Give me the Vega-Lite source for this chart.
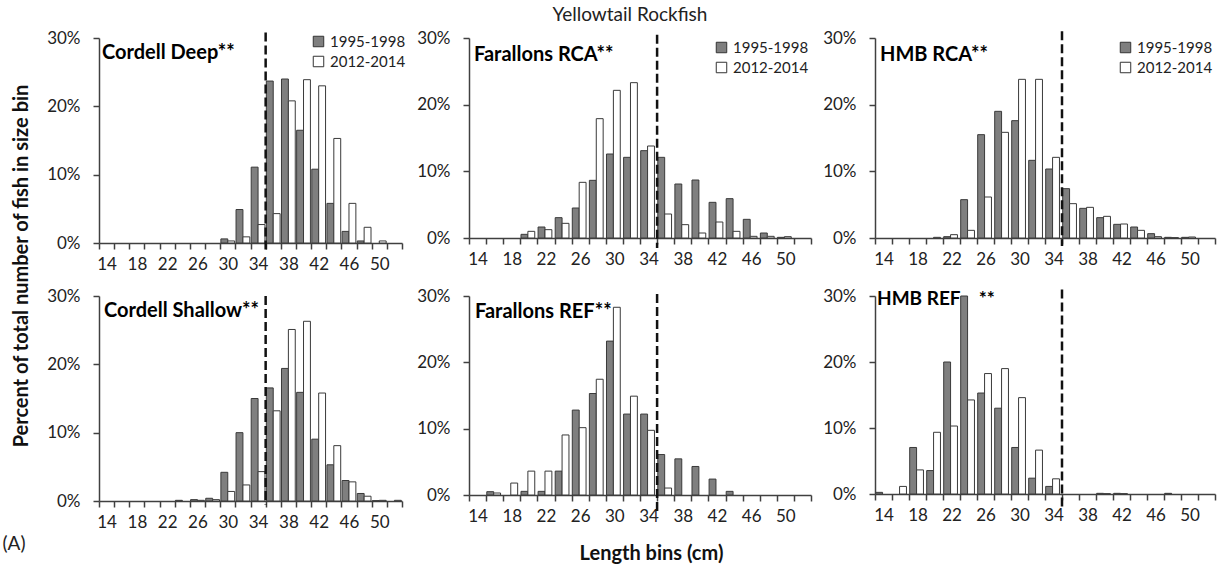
{
  "$schema": "https://vega.github.io/schema/vega-lite/v6.json",
  "padding": {"left": 2, "right": 2, "top": 6, "bottom": 2},
  "background": "#ffffff",
  "title": {"text": "Yellowtail Rockfish", "font": "Lato", "fontSize": 19, "fontWeight": "normal", "color": "#222222", "anchor": "middle", "dx": 21, "offset": 4},
  "datasets": {
    "panels": [
      {"site": "Cordell Deep", "label": "Cordell Deep**"},
      {"site": "Farallons RCA", "label": "Farallons RCA**"},
      {"site": "HMB RCA", "label": "HMB RCA**"},
      {"site": "Cordell Shallow", "label": "Cordell Shallow**"},
      {"site": "Farallons REF", "label": "Farallons REF**"},
      {"site": "HMB REF", "label": "HMB REF\u00a0\u00a0\u00a0\u00a0**"}
    ],
    "lengths": [
      {"site": "Cordell Deep", "bin": 30, "period": "1995-1998", "pct": 0.6},
      {"site": "Cordell Deep", "bin": 30, "period": "2012-2014", "pct": 0.3},
      {"site": "Cordell Deep", "bin": 32, "period": "1995-1998", "pct": 4.9},
      {"site": "Cordell Deep", "bin": 32, "period": "2012-2014", "pct": 0.9},
      {"site": "Cordell Deep", "bin": 34, "period": "1995-1998", "pct": 11.1},
      {"site": "Cordell Deep", "bin": 34, "period": "2012-2014", "pct": 2.7},
      {"site": "Cordell Deep", "bin": 36, "period": "1995-1998", "pct": 23.7},
      {"site": "Cordell Deep", "bin": 36, "period": "2012-2014", "pct": 4.3},
      {"site": "Cordell Deep", "bin": 38, "period": "1995-1998", "pct": 24.0},
      {"site": "Cordell Deep", "bin": 38, "period": "2012-2014", "pct": 20.8},
      {"site": "Cordell Deep", "bin": 40, "period": "1995-1998", "pct": 16.5},
      {"site": "Cordell Deep", "bin": 40, "period": "2012-2014", "pct": 23.9},
      {"site": "Cordell Deep", "bin": 42, "period": "1995-1998", "pct": 10.8},
      {"site": "Cordell Deep", "bin": 42, "period": "2012-2014", "pct": 23.0},
      {"site": "Cordell Deep", "bin": 44, "period": "1995-1998", "pct": 5.8},
      {"site": "Cordell Deep", "bin": 44, "period": "2012-2014", "pct": 15.3},
      {"site": "Cordell Deep", "bin": 46, "period": "1995-1998", "pct": 1.7},
      {"site": "Cordell Deep", "bin": 46, "period": "2012-2014", "pct": 5.8},
      {"site": "Cordell Deep", "bin": 48, "period": "1995-1998", "pct": 0.3},
      {"site": "Cordell Deep", "bin": 48, "period": "2012-2014", "pct": 2.3},
      {"site": "Cordell Deep", "bin": 50, "period": "2012-2014", "pct": 0.3},

      {"site": "Farallons RCA", "bin": 20, "period": "1995-1998", "pct": 0.55},
      {"site": "Farallons RCA", "bin": 20, "period": "2012-2014", "pct": 1.0},
      {"site": "Farallons RCA", "bin": 22, "period": "1995-1998", "pct": 1.65},
      {"site": "Farallons RCA", "bin": 22, "period": "2012-2014", "pct": 1.25},
      {"site": "Farallons RCA", "bin": 24, "period": "1995-1998", "pct": 3.05},
      {"site": "Farallons RCA", "bin": 24, "period": "2012-2014", "pct": 2.2},
      {"site": "Farallons RCA", "bin": 26, "period": "1995-1998", "pct": 4.5},
      {"site": "Farallons RCA", "bin": 26, "period": "2012-2014", "pct": 8.35},
      {"site": "Farallons RCA", "bin": 28, "period": "1995-1998", "pct": 8.65},
      {"site": "Farallons RCA", "bin": 28, "period": "2012-2014", "pct": 17.9},
      {"site": "Farallons RCA", "bin": 30, "period": "1995-1998", "pct": 12.6},
      {"site": "Farallons RCA", "bin": 30, "period": "2012-2014", "pct": 22.15},
      {"site": "Farallons RCA", "bin": 32, "period": "1995-1998", "pct": 12.1},
      {"site": "Farallons RCA", "bin": 32, "period": "2012-2014", "pct": 23.3},
      {"site": "Farallons RCA", "bin": 34, "period": "1995-1998", "pct": 13.1},
      {"site": "Farallons RCA", "bin": 34, "period": "2012-2014", "pct": 13.8},
      {"site": "Farallons RCA", "bin": 36, "period": "1995-1998", "pct": 12.1},
      {"site": "Farallons RCA", "bin": 36, "period": "2012-2014", "pct": 3.6},
      {"site": "Farallons RCA", "bin": 38, "period": "1995-1998", "pct": 8.1},
      {"site": "Farallons RCA", "bin": 38, "period": "2012-2014", "pct": 2.0},
      {"site": "Farallons RCA", "bin": 40, "period": "1995-1998", "pct": 8.7},
      {"site": "Farallons RCA", "bin": 40, "period": "2012-2014", "pct": 0.75},
      {"site": "Farallons RCA", "bin": 42, "period": "1995-1998", "pct": 5.35},
      {"site": "Farallons RCA", "bin": 42, "period": "2012-2014", "pct": 2.4},
      {"site": "Farallons RCA", "bin": 44, "period": "1995-1998", "pct": 5.9},
      {"site": "Farallons RCA", "bin": 44, "period": "2012-2014", "pct": 1.0},
      {"site": "Farallons RCA", "bin": 46, "period": "1995-1998", "pct": 2.8},
      {"site": "Farallons RCA", "bin": 46, "period": "2012-2014", "pct": 0.25},
      {"site": "Farallons RCA", "bin": 48, "period": "1995-1998", "pct": 0.75},
      {"site": "Farallons RCA", "bin": 48, "period": "2012-2014", "pct": 0.25},
      {"site": "Farallons RCA", "bin": 50, "period": "1995-1998", "pct": 0.1},
      {"site": "Farallons RCA", "bin": 50, "period": "2012-2014", "pct": 0.2},

      {"site": "HMB RCA", "bin": 20, "period": "2012-2014", "pct": 0.1},
      {"site": "HMB RCA", "bin": 22, "period": "1995-1998", "pct": 0.2},
      {"site": "HMB RCA", "bin": 22, "period": "2012-2014", "pct": 0.5},
      {"site": "HMB RCA", "bin": 24, "period": "1995-1998", "pct": 5.75},
      {"site": "HMB RCA", "bin": 24, "period": "2012-2014", "pct": 1.15},
      {"site": "HMB RCA", "bin": 26, "period": "1995-1998", "pct": 15.5},
      {"site": "HMB RCA", "bin": 26, "period": "2012-2014", "pct": 6.15},
      {"site": "HMB RCA", "bin": 28, "period": "1995-1998", "pct": 19.0},
      {"site": "HMB RCA", "bin": 28, "period": "2012-2014", "pct": 15.85},
      {"site": "HMB RCA", "bin": 30, "period": "1995-1998", "pct": 17.6},
      {"site": "HMB RCA", "bin": 30, "period": "2012-2014", "pct": 23.8},
      {"site": "HMB RCA", "bin": 32, "period": "1995-1998", "pct": 11.65},
      {"site": "HMB RCA", "bin": 32, "period": "2012-2014", "pct": 23.8},
      {"site": "HMB RCA", "bin": 34, "period": "1995-1998", "pct": 10.35},
      {"site": "HMB RCA", "bin": 34, "period": "2012-2014", "pct": 12.1},
      {"site": "HMB RCA", "bin": 36, "period": "1995-1998", "pct": 7.4},
      {"site": "HMB RCA", "bin": 36, "period": "2012-2014", "pct": 5.15},
      {"site": "HMB RCA", "bin": 38, "period": "1995-1998", "pct": 4.45},
      {"site": "HMB RCA", "bin": 38, "period": "2012-2014", "pct": 4.6},
      {"site": "HMB RCA", "bin": 40, "period": "1995-1998", "pct": 3.05},
      {"site": "HMB RCA", "bin": 40, "period": "2012-2014", "pct": 3.25},
      {"site": "HMB RCA", "bin": 42, "period": "1995-1998", "pct": 2.05},
      {"site": "HMB RCA", "bin": 42, "period": "2012-2014", "pct": 2.1},
      {"site": "HMB RCA", "bin": 44, "period": "1995-1998", "pct": 1.65},
      {"site": "HMB RCA", "bin": 44, "period": "2012-2014", "pct": 1.15},
      {"site": "HMB RCA", "bin": 46, "period": "1995-1998", "pct": 0.65},
      {"site": "HMB RCA", "bin": 46, "period": "2012-2014", "pct": 0.2},
      {"site": "HMB RCA", "bin": 48, "period": "1995-1998", "pct": 0.1},
      {"site": "HMB RCA", "bin": 48, "period": "2012-2014", "pct": 0.05},
      {"site": "HMB RCA", "bin": 50, "period": "1995-1998", "pct": 0.1},
      {"site": "HMB RCA", "bin": 50, "period": "2012-2014", "pct": 0.15},

      {"site": "Cordell Shallow", "bin": 24, "period": "1995-1998", "pct": 0.1},
      {"site": "Cordell Shallow", "bin": 26, "period": "1995-1998", "pct": 0.2},
      {"site": "Cordell Shallow", "bin": 26, "period": "2012-2014", "pct": 0.1},
      {"site": "Cordell Shallow", "bin": 28, "period": "1995-1998", "pct": 0.4},
      {"site": "Cordell Shallow", "bin": 28, "period": "2012-2014", "pct": 0.2},
      {"site": "Cordell Shallow", "bin": 30, "period": "1995-1998", "pct": 4.2},
      {"site": "Cordell Shallow", "bin": 30, "period": "2012-2014", "pct": 1.4},
      {"site": "Cordell Shallow", "bin": 32, "period": "1995-1998", "pct": 10.0},
      {"site": "Cordell Shallow", "bin": 32, "period": "2012-2014", "pct": 2.35},
      {"site": "Cordell Shallow", "bin": 34, "period": "1995-1998", "pct": 15.0},
      {"site": "Cordell Shallow", "bin": 34, "period": "2012-2014", "pct": 4.3},
      {"site": "Cordell Shallow", "bin": 36, "period": "1995-1998", "pct": 16.55},
      {"site": "Cordell Shallow", "bin": 36, "period": "2012-2014", "pct": 13.2},
      {"site": "Cordell Shallow", "bin": 38, "period": "1995-1998", "pct": 19.4},
      {"site": "Cordell Shallow", "bin": 38, "period": "2012-2014", "pct": 25.1},
      {"site": "Cordell Shallow", "bin": 40, "period": "1995-1998", "pct": 15.9},
      {"site": "Cordell Shallow", "bin": 40, "period": "2012-2014", "pct": 26.3},
      {"site": "Cordell Shallow", "bin": 42, "period": "1995-1998", "pct": 9.05},
      {"site": "Cordell Shallow", "bin": 42, "period": "2012-2014", "pct": 15.8},
      {"site": "Cordell Shallow", "bin": 44, "period": "1995-1998", "pct": 5.3},
      {"site": "Cordell Shallow", "bin": 44, "period": "2012-2014", "pct": 8.1},
      {"site": "Cordell Shallow", "bin": 46, "period": "1995-1998", "pct": 3.0},
      {"site": "Cordell Shallow", "bin": 46, "period": "2012-2014", "pct": 2.8},
      {"site": "Cordell Shallow", "bin": 48, "period": "1995-1998", "pct": 1.1},
      {"site": "Cordell Shallow", "bin": 48, "period": "2012-2014", "pct": 0.7},
      {"site": "Cordell Shallow", "bin": 50, "period": "1995-1998", "pct": 0.05},
      {"site": "Cordell Shallow", "bin": 50, "period": "2012-2014", "pct": 0.1},
      {"site": "Cordell Shallow", "bin": 52, "period": "2012-2014", "pct": 0.1},

      {"site": "Farallons REF", "bin": 16, "period": "1995-1998", "pct": 0.5},
      {"site": "Farallons REF", "bin": 16, "period": "2012-2014", "pct": 0.3},
      {"site": "Farallons REF", "bin": 18, "period": "2012-2014", "pct": 1.8},
      {"site": "Farallons REF", "bin": 20, "period": "1995-1998", "pct": 0.55},
      {"site": "Farallons REF", "bin": 20, "period": "2012-2014", "pct": 3.6},
      {"site": "Farallons REF", "bin": 22, "period": "1995-1998", "pct": 0.55},
      {"site": "Farallons REF", "bin": 22, "period": "2012-2014", "pct": 3.6},
      {"site": "Farallons REF", "bin": 24, "period": "1995-1998", "pct": 3.6},
      {"site": "Farallons REF", "bin": 24, "period": "2012-2014", "pct": 9.05},
      {"site": "Farallons REF", "bin": 26, "period": "1995-1998", "pct": 12.8},
      {"site": "Farallons REF", "bin": 26, "period": "2012-2014", "pct": 10.15},
      {"site": "Farallons REF", "bin": 28, "period": "1995-1998", "pct": 15.3},
      {"site": "Farallons REF", "bin": 28, "period": "2012-2014", "pct": 17.45},
      {"site": "Farallons REF", "bin": 30, "period": "1995-1998", "pct": 23.2},
      {"site": "Farallons REF", "bin": 30, "period": "2012-2014", "pct": 28.3},
      {"site": "Farallons REF", "bin": 32, "period": "1995-1998", "pct": 12.2},
      {"site": "Farallons REF", "bin": 32, "period": "2012-2014", "pct": 14.9},
      {"site": "Farallons REF", "bin": 34, "period": "1995-1998", "pct": 12.2},
      {"site": "Farallons REF", "bin": 34, "period": "2012-2014", "pct": 9.75},
      {"site": "Farallons REF", "bin": 36, "period": "1995-1998", "pct": 6.1},
      {"site": "Farallons REF", "bin": 36, "period": "2012-2014", "pct": 1.05},
      {"site": "Farallons REF", "bin": 38, "period": "1995-1998", "pct": 5.45},
      {"site": "Farallons REF", "bin": 40, "period": "1995-1998", "pct": 4.3},
      {"site": "Farallons REF", "bin": 42, "period": "1995-1998", "pct": 2.4},
      {"site": "Farallons REF", "bin": 44, "period": "1995-1998", "pct": 0.55},

      {"site": "HMB REF", "bin": 14, "period": "1995-1998", "pct": 0.25},
      {"site": "HMB REF", "bin": 16, "period": "2012-2014", "pct": 1.15},
      {"site": "HMB REF", "bin": 18, "period": "1995-1998", "pct": 7.05},
      {"site": "HMB REF", "bin": 18, "period": "2012-2014", "pct": 3.65},
      {"site": "HMB REF", "bin": 20, "period": "1995-1998", "pct": 3.55},
      {"site": "HMB REF", "bin": 20, "period": "2012-2014", "pct": 9.35},
      {"site": "HMB REF", "bin": 22, "period": "1995-1998", "pct": 20.0},
      {"site": "HMB REF", "bin": 22, "period": "2012-2014", "pct": 10.3},
      {"site": "HMB REF", "bin": 24, "period": "1995-1998", "pct": 30.0},
      {"site": "HMB REF", "bin": 24, "period": "2012-2014", "pct": 14.25},
      {"site": "HMB REF", "bin": 26, "period": "1995-1998", "pct": 15.3},
      {"site": "HMB REF", "bin": 26, "period": "2012-2014", "pct": 18.25},
      {"site": "HMB REF", "bin": 28, "period": "1995-1998", "pct": 13.0},
      {"site": "HMB REF", "bin": 28, "period": "2012-2014", "pct": 19.0},
      {"site": "HMB REF", "bin": 30, "period": "1995-1998", "pct": 7.05},
      {"site": "HMB REF", "bin": 30, "period": "2012-2014", "pct": 14.6},
      {"site": "HMB REF", "bin": 32, "period": "1995-1998", "pct": 2.4},
      {"site": "HMB REF", "bin": 32, "period": "2012-2014", "pct": 6.65},
      {"site": "HMB REF", "bin": 34, "period": "1995-1998", "pct": 1.15},
      {"site": "HMB REF", "bin": 34, "period": "2012-2014", "pct": 2.3},
      {"site": "HMB REF", "bin": 40, "period": "1995-1998", "pct": 0.1},
      {"site": "HMB REF", "bin": 40, "period": "2012-2014", "pct": 0.05},
      {"site": "HMB REF", "bin": 42, "period": "1995-1998", "pct": 0.1},
      {"site": "HMB REF", "bin": 42, "period": "2012-2014", "pct": 0.05},
      {"site": "HMB REF", "bin": 48, "period": "1995-1998", "pct": 0.1}
    ]
  },
  "vconcat": [
    {
      "title": {"text": "Percent of total number of fish in size bin", "orient": "left", "anchor": "middle", "font": "Lato", "fontSize": 20, "fontWeight": "bold", "color": "#111111", "offset": -30, "dx": 30},
      "columns": 3,
      "align": "each",
      "spacing": {"row": 15, "column": 10},
      "resolve": {"scale": {"x": "independent", "y": "independent", "color": "independent"}, "legend": {"color": "independent"}, "axis": {"x": "independent", "y": "independent"}},
      "concat": [
        {
          "width": 303, "height": 205,
          "layer": [
            {"data": {"name": "panels"}, "transform": [{"filter": "datum.site === 'Cordell Deep'"}],
             "mark": {"type": "text", "align": "left", "baseline": "middle", "dx": 3, "font": "Lato", "fontWeight": "bold", "fontSize": 20, "color": "#000000"},
             "encoding": {"x": {"datum": 14, "type": "ordinal", "bandPosition": 0}, "y": {"datum": 27.8, "type": "quantitative"}, "text": {"field": "label"}}},
            {"data": {"name": "lengths"}, "transform": [{"filter": "datum.site === 'Cordell Deep'"}],
             "mark": {"type": "bar", "stroke": "#3a3a3a", "strokeWidth": 1},
             "encoding": {
               "x": {"field": "bin", "type": "ordinal", "scale": {"domain": [14,16,18,20,22,24,26,28,30,32,34,36,38,40,42,44,46,48,50,52], "paddingInner": 0, "paddingOuter": 0}, "axis": {"title": null, "labelExpr": "(datum.value - 14) % 4 == 0 ? datum.label : ''"}},
               "xOffset": {"field": "period", "type": "nominal", "scale": {"domain": ["1995-1998", "2012-2014"], "paddingInner": 0, "paddingOuter": 0.1}},
               "y": {"field": "pct", "type": "quantitative", "scale": {"domain": [0, 30], "nice": false}, "axis": {"title": null, "values": [0, 10, 20, 30], "labelExpr": "datum.value + '%'"}},
               "color": {"field": "period", "type": "nominal", "scale": {"domain": ["1995-1998", "2012-2014"], "range": ["#7f7f7f", "#ffffff"]}, "legend": {"title": null, "offset": -4}}
             }},
            {"data": {"name": "panels"}, "transform": [{"filter": "datum.site === 'Cordell Deep'"}],
             "mark": {"type": "rule", "strokeDash": [9, 4], "strokeWidth": 2.5, "color": "#111111"},
             "encoding": {"x": {"datum": 36, "type": "ordinal", "bandPosition": 0}, "y": {"datum": 30.8, "type": "quantitative"}, "y2": {"datum": -1.3}}}
          ]
        },
        {
          "width": 342, "height": 200,
          "layer": [
            {"data": {"name": "panels"}, "transform": [{"filter": "datum.site === 'Farallons RCA'"}],
             "mark": {"type": "text", "align": "left", "baseline": "middle", "dx": 5, "font": "Lato", "fontWeight": "bold", "fontSize": 20, "color": "#000000"},
             "encoding": {"x": {"datum": 14, "type": "ordinal", "bandPosition": 0}, "y": {"datum": 27.5, "type": "quantitative"}, "text": {"field": "label"}}},
            {"data": {"name": "lengths"}, "transform": [{"filter": "datum.site === 'Farallons RCA'"}],
             "mark": {"type": "bar", "stroke": "#3a3a3a", "strokeWidth": 1},
             "encoding": {
               "x": {"field": "bin", "type": "ordinal", "scale": {"domain": [14,16,18,20,22,24,26,28,30,32,34,36,38,40,42,44,46,48,50,52], "paddingInner": 0, "paddingOuter": 0}, "axis": {"title": null, "labelExpr": "(datum.value - 14) % 4 == 0 ? datum.label : ''"}},
               "xOffset": {"field": "period", "type": "nominal", "scale": {"domain": ["1995-1998", "2012-2014"], "paddingInner": 0, "paddingOuter": 0.1}},
               "y": {"field": "pct", "type": "quantitative", "scale": {"domain": [0, 30], "nice": false}, "axis": {"title": null, "values": [0, 10, 20, 30], "labelExpr": "datum.value + '%'"}},
               "color": {"field": "period", "type": "nominal", "scale": {"domain": ["1995-1998", "2012-2014"], "range": ["#7f7f7f", "#ffffff"]}, "legend": {"title": null, "offset": 2}}
             }},
            {"data": {"name": "panels"}, "transform": [{"filter": "datum.site === 'Farallons RCA'"}],
             "mark": {"type": "rule", "strokeDash": [9, 4], "strokeWidth": 2.5, "color": "#111111"},
             "encoding": {"x": {"datum": 36, "type": "ordinal", "bandPosition": 0}, "y": {"datum": 30.5, "type": "quantitative"}, "y2": {"datum": -1.5}}}
          ]
        },
        {
          "width": 340, "height": 200,
          "layer": [
            {"data": {"name": "panels"}, "transform": [{"filter": "datum.site === 'HMB RCA'"}],
             "mark": {"type": "text", "align": "left", "baseline": "middle", "dx": 5, "font": "Lato", "fontWeight": "bold", "fontSize": 20, "color": "#000000"},
             "encoding": {"x": {"datum": 14, "type": "ordinal", "bandPosition": 0}, "y": {"datum": 27.5, "type": "quantitative"}, "text": {"field": "label"}}},
            {"data": {"name": "lengths"}, "transform": [{"filter": "datum.site === 'HMB RCA'"}],
             "mark": {"type": "bar", "stroke": "#3a3a3a", "strokeWidth": 1},
             "encoding": {
               "x": {"field": "bin", "type": "ordinal", "scale": {"domain": [14,16,18,20,22,24,26,28,30,32,34,36,38,40,42,44,46,48,50,52], "paddingInner": 0, "paddingOuter": 0}, "axis": {"title": null, "labelExpr": "(datum.value - 14) % 4 == 0 ? datum.label : ''"}},
               "xOffset": {"field": "period", "type": "nominal", "scale": {"domain": ["1995-1998", "2012-2014"], "paddingInner": 0, "paddingOuter": 0.1}},
               "y": {"field": "pct", "type": "quantitative", "scale": {"domain": [0, 30], "nice": false}, "axis": {"title": null, "values": [0, 10, 20, 30], "labelExpr": "datum.value + '%'"}},
               "color": {"field": "period", "type": "nominal", "scale": {"domain": ["1995-1998", "2012-2014"], "range": ["#7f7f7f", "#ffffff"]}, "legend": {"title": null, "offset": 2}}
             }},
            {"data": {"name": "panels"}, "transform": [{"filter": "datum.site === 'HMB RCA'"}],
             "mark": {"type": "rule", "strokeDash": [9, 4], "strokeWidth": 2.5, "color": "#111111"},
             "encoding": {"x": {"datum": 36, "type": "ordinal", "bandPosition": 0}, "y": {"datum": 31, "type": "quantitative"}, "y2": {"datum": -1.2}}}
          ]
        },
        {
          "width": 303, "height": 205,
          "layer": [
            {"data": {"name": "panels"}, "transform": [{"filter": "datum.site === 'Cordell Shallow'"}],
             "mark": {"type": "text", "align": "left", "baseline": "middle", "dx": 5, "font": "Lato", "fontWeight": "bold", "fontSize": 20, "color": "#000000"},
             "encoding": {"x": {"datum": 14, "type": "ordinal", "bandPosition": 0}, "y": {"datum": 27.8, "type": "quantitative"}, "text": {"field": "label"}}},
            {"data": {"name": "lengths"}, "transform": [{"filter": "datum.site === 'Cordell Shallow'"}],
             "mark": {"type": "bar", "stroke": "#3a3a3a", "strokeWidth": 1},
             "encoding": {
               "x": {"field": "bin", "type": "ordinal", "scale": {"domain": [14,16,18,20,22,24,26,28,30,32,34,36,38,40,42,44,46,48,50,52], "paddingInner": 0, "paddingOuter": 0}, "axis": {"title": "(A)", "titleFontWeight": "normal", "titleFontSize": 19, "titleColor": "#222222", "titleAlign": "left", "titleBaseline": "middle", "titleX": -97, "titleY": 42, "labelExpr": "(datum.value - 14) % 4 == 0 ? datum.label : ''"}},
               "xOffset": {"field": "period", "type": "nominal", "scale": {"domain": ["1995-1998", "2012-2014"], "paddingInner": 0, "paddingOuter": 0.1}},
               "y": {"field": "pct", "type": "quantitative", "scale": {"domain": [0, 30], "nice": false}, "axis": {"title": null, "values": [0, 10, 20, 30], "labelExpr": "datum.value + '%'"}},
               "color": {"field": "period", "type": "nominal", "scale": {"domain": ["1995-1998", "2012-2014"], "range": ["#7f7f7f", "#ffffff"]}, "legend": null}
             }},
            {"data": {"name": "panels"}, "transform": [{"filter": "datum.site === 'Cordell Shallow'"}],
             "mark": {"type": "rule", "strokeDash": [9, 4], "strokeWidth": 2.5, "color": "#111111"},
             "encoding": {"x": {"datum": 36, "type": "ordinal", "bandPosition": 0}, "y": {"datum": 30, "type": "quantitative"}, "y2": {"datum": -0.5}}}
          ]
        },
        {
          "width": 342, "height": 199,
          "layer": [
            {"data": {"name": "panels"}, "transform": [{"filter": "datum.site === 'Farallons REF'"}],
             "mark": {"type": "text", "align": "left", "baseline": "middle", "dx": 6, "font": "Lato", "fontWeight": "bold", "fontSize": 20, "color": "#000000"},
             "encoding": {"x": {"datum": 14, "type": "ordinal", "bandPosition": 0}, "y": {"datum": 27.6, "type": "quantitative"}, "text": {"field": "label"}}},
            {"data": {"name": "lengths"}, "transform": [{"filter": "datum.site === 'Farallons REF'"}],
             "mark": {"type": "bar", "stroke": "#3a3a3a", "strokeWidth": 1},
             "encoding": {
               "x": {"field": "bin", "type": "ordinal", "scale": {"domain": [14,16,18,20,22,24,26,28,30,32,34,36,38,40,42,44,46,48,50,52], "paddingInner": 0, "paddingOuter": 0}, "axis": {"title": "Length bins (cm)", "titleFontSize": 20, "titleX": 182, "titleY": 58, "titleAlign": "center", "titleBaseline": "middle", "labelExpr": "(datum.value - 14) % 4 == 0 ? datum.label : ''"}},
               "xOffset": {"field": "period", "type": "nominal", "scale": {"domain": ["1995-1998", "2012-2014"], "paddingInner": 0, "paddingOuter": 0.1}},
               "y": {"field": "pct", "type": "quantitative", "scale": {"domain": [0, 30], "nice": false}, "axis": {"title": null, "values": [0, 10, 20, 30], "labelExpr": "datum.value + '%'"}},
               "color": {"field": "period", "type": "nominal", "scale": {"domain": ["1995-1998", "2012-2014"], "range": ["#7f7f7f", "#ffffff"]}, "legend": null}
             }},
            {"data": {"name": "panels"}, "transform": [{"filter": "datum.site === 'Farallons REF'"}],
             "mark": {"type": "rule", "strokeDash": [9, 4], "strokeWidth": 2.5, "color": "#111111"},
             "encoding": {"x": {"datum": 36, "type": "ordinal", "bandPosition": 0}, "y": {"datum": 30.3, "type": "quantitative"}, "y2": {"datum": -3}}}
          ]
        },
        {
          "width": 340, "height": 198,
          "layer": [
            {"data": {"name": "panels"}, "transform": [{"filter": "datum.site === 'HMB REF'"}],
             "mark": {"type": "text", "align": "left", "baseline": "middle", "dx": 2, "font": "Lato", "fontWeight": "bold", "fontSize": 19, "color": "#000000"},
             "encoding": {"x": {"datum": 14, "type": "ordinal", "bandPosition": 0}, "y": {"datum": 29.5, "type": "quantitative"}, "text": {"field": "label"}}},
            {"data": {"name": "lengths"}, "transform": [{"filter": "datum.site === 'HMB REF'"}],
             "mark": {"type": "bar", "stroke": "#3a3a3a", "strokeWidth": 1},
             "encoding": {
               "x": {"field": "bin", "type": "ordinal", "scale": {"domain": [14,16,18,20,22,24,26,28,30,32,34,36,38,40,42,44,46,48,50,52], "paddingInner": 0, "paddingOuter": 0}, "axis": {"title": null, "labelExpr": "(datum.value - 14) % 4 == 0 ? datum.label : ''"}},
               "xOffset": {"field": "period", "type": "nominal", "scale": {"domain": ["1995-1998", "2012-2014"], "paddingInner": 0, "paddingOuter": 0.1}},
               "y": {"field": "pct", "type": "quantitative", "scale": {"domain": [0, 30], "nice": false}, "axis": {"title": null, "values": [0, 10, 20, 30], "labelExpr": "datum.value + '%'"}},
               "color": {"field": "period", "type": "nominal", "scale": {"domain": ["1995-1998", "2012-2014"], "range": ["#7f7f7f", "#ffffff"]}, "legend": null}
             }},
            {"data": {"name": "panels"}, "transform": [{"filter": "datum.site === 'HMB REF'"}],
             "mark": {"type": "rule", "strokeDash": [9, 4], "strokeWidth": 2.5, "color": "#111111"},
             "encoding": {"x": {"datum": 36, "type": "ordinal", "bandPosition": 0}, "y": {"datum": 31, "type": "quantitative"}, "y2": {"datum": -2}}}
          ]
        }
      ]
    }
  ],
  "config": {
    "view": {"stroke": null},
    "axis": {"grid": false, "domainColor": "#404040", "tickColor": "#404040", "domainWidth": 1.5, "tickWidth": 1.5, "tickSize": 6, "labelFont": "Lato", "labelFontSize": 17, "labelColor": "#222222", "titleFont": "Lato", "titleFontWeight": "bold", "titleFontSize": 19, "titleColor": "#111111"},
    "axisX": {"labelPadding": 7, "tickBand": "extent", "labelAngle": 0, "labelOverlap": false, "labelFlush": false},
    "axisY": {"labelPadding": 13},
    "legend": {"orient": "top-right", "symbolType": "square", "symbolSize": 110, "symbolStrokeColor": "#333333", "symbolStrokeWidth": 1, "labelFont": "Lato", "labelFontSize": 15, "labelColor": "#222222", "rowPadding": 4, "padding": 0, "labelOffset": 4}
  }
}
